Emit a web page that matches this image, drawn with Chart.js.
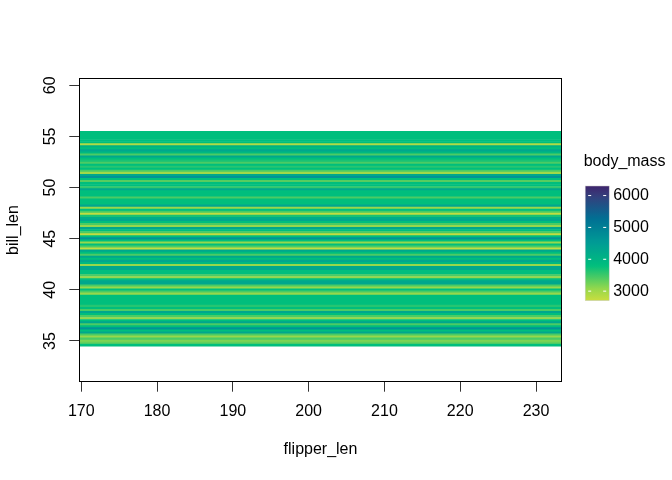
<!DOCTYPE html>
<html>
  <head>
    <title>bill_len vs flipper_len</title>
    <meta charset="UTF-8">
    <style>
      body { margin: 0; background: #fff; }
    </style>
  </head>
  <body>
    <canvas id="heatChart" width="672" height="480"></canvas>
    <script src="https://cdn.jsdelivr.net/npm/chart.js/dist/chart.umd.min.js"></script>
    <script>
      // ---------------- data ----------------
      // bill_len band centres (0.2 wide rows), top to bottom
      const billLen = [
        55.4,55.2,55.0,54.8,54.6,54.4,54.2,54.0,53.8,53.6,
        53.4,53.2,53.0,52.8,52.6,52.4,52.2,52.0,51.8,51.6,
        51.4,51.2,51.0,50.8,50.6,50.4,50.2,50.0,49.8,49.6,
        49.4,49.2,49.0,48.8,48.6,48.4,48.2,48.0,47.8,47.6,
        47.4,47.2,47.0,46.8,46.6,46.4,46.2,46.0,45.8,45.6,
        45.4,45.2,45.0,44.8,44.6,44.4,44.2,44.0,43.8,43.6,
        43.4,43.2,43.0,42.8,42.6,42.4,42.2,42.0,41.8,41.6,
        41.4,41.2,41.0,40.8,40.6,40.4,40.2,40.0,39.8,39.6,
        39.4,39.2,39.0,38.8,38.6,38.4,38.2,38.0,37.8,37.6,
        37.4,37.2,37.0,36.8,36.6,36.4,36.2,36.0,35.8,35.6,
        35.4,35.2,35.0,34.8,34.6
      ];
      // body_mass for each band
      const bodyMass = [
        3900,3900,3900,3900,3900,3900,3150,4100,3900,4300,
        4000,3600,4300,3900,3800,3600,3900,3750,3900,3600,
        3250,4300,4600,3900,3550,3900,3900,3700,4300,3900,
        3900,3900,3600,3900,3900,3900,4300,3300,3900,3600,
        3050,3800,4200,4300,3900,3600,3300,4300,3900,3600,
        3050,3900,4600,3900,3300,3900,3600,3050,4300,3900,
        3600,4300,3900,4300,4000,3300,4300,4300,3900,3900,
        3600,3300,3900,4300,4300,3600,3300,3900,3600,3300,
        3900,3900,3900,3900,3900,3750,3900,3600,4300,3900,
        3600,3300,3900,4300,3600,3900,4600,3900,4300,3600,
        3300,3600,3400,3500,3900
      ];
      const flipperRange = [169.74, 233.39];   // x extent of the image
      const billRange = [31.02, 60.68];        // y axis limits
      const xTicks = [170, 180, 190, 200, 210, 220, 230];
      const yTicks = [35, 40, 45, 50, 55, 60];
      const massRange = [2700, 6300];
      const massTicks = [3000, 4000, 5000, 6000];
      const keyShown = [5950, 3000];           // colours at the top / bottom of the key

      // viridis (hcl) palette, high mass -> low mass
      const palette = ['#4B0055', '#353E7C', '#007094', '#009B95', '#00BE7D', '#96D84B', '#FDE333'];

      function hexToRgb(h) {
        return [parseInt(h.slice(1, 3), 16), parseInt(h.slice(3, 5), 16), parseInt(h.slice(5, 7), 16)];
      }
      function massColor(v) {
        let t = (massRange[1] - v) / (massRange[1] - massRange[0]);
        t = Math.min(1, Math.max(0, t));
        const pos = t * (palette.length - 1);
        const i = Math.min(palette.length - 2, Math.floor(pos));
        const f = pos - i;
        const a = hexToRgb(palette[i]), b = hexToRgb(palette[i + 1]);
        const c = a.map((x, k) => Math.round(x + (b[k] - x) * f));
        return 'rgb(' + c.join(',') + ')';
      }

      const FONT = '"Liberation Sans", Arial, sans-serif';

      // box, rotated y labels, titles and the colour key
      const decor = {
        id: 'decor',
        afterDraw(chart) {
          const { ctx, chartArea: a, scales } = chart;
          ctx.save();
          ctx.strokeStyle = '#000';
          ctx.lineWidth = 1;
          ctx.strokeRect(Math.round(a.left) + 0.5, Math.round(a.top) + 0.5,
                         Math.round(a.right - a.left), Math.round(a.bottom - a.top));

          ctx.fillStyle = '#000';
          ctx.font = '16px ' + FONT;
          ctx.textAlign = 'center';
          ctx.textBaseline = 'middle';
          scales.y.ticks.forEach(t => {
            const py = scales.y.getPixelForValue(t.value);
            ctx.save();
            ctx.translate(50.5, py);
            ctx.rotate(-Math.PI / 2);
            ctx.fillText(String(t.value), 0, 0);
            ctx.restore();
          });

          // axis titles
          ctx.fillText('flipper_len', (a.left + a.right) / 2, 450);
          ctx.save();
          ctx.translate(14, (a.top + a.bottom) / 2);
          ctx.rotate(-Math.PI / 2);
          ctx.fillText('bill_len', 0, 0);
          ctx.restore();

          // colour key
          const kx = a.right + 23.5, kw = 24, ktop = 186, kbot = 300.7;
          ctx.textAlign = 'left';
          ctx.fillText('body_mass', a.right + 22, 161.7);
          const grad = ctx.createLinearGradient(0, ktop, 0, kbot);
          for (let s = 0; s <= 40; s++) {
            const v = keyShown[0] - (keyShown[0] - keyShown[1]) * s / 40;
            grad.addColorStop(s / 40, massColor(v));
          }
          ctx.fillStyle = grad;
          ctx.fillRect(kx, ktop, kw, kbot - ktop);
          ctx.strokeStyle = '#ccc';
          ctx.lineWidth = 0.5;
          ctx.strokeRect(kx, ktop, kw, kbot - ktop);
          massTicks.forEach(m => {
            const py = kbot - (m - massRange[0]) / (massRange[1] - massRange[0]) * (kbot - ktop);
            ctx.strokeStyle = '#fff';
            ctx.lineWidth = 1;
            ctx.beginPath();
            ctx.moveTo(kx + 3, py); ctx.lineTo(kx + 6, py);
            ctx.moveTo(kx + kw - 6, py); ctx.lineTo(kx + kw - 3, py);
            ctx.stroke();
            ctx.fillStyle = '#000';
            ctx.fillText(String(m), kx + kw + 4, py);
          });
          ctx.restore();
        }
      };

      const CHART = document.getElementById('heatChart');
      let heatChart = new Chart(CHART, {
        type: 'bar',
        data: {
          datasets: [{
            label: 'body_mass',
            data: billLen.map(b => ({ y: b, x: flipperRange.slice() })),
            backgroundColor: bodyMass.map(massColor),
            borderWidth: 0,
            borderSkipped: false,
            barPercentage: 1,
            categoryPercentage: 1
          }]
        },
        options: {
          indexAxis: 'y',
          responsive: false,
          animation: false,
          devicePixelRatio: 1,
          layout: { padding: { left: 0, top: 78.3, right: 110.3, bottom: 0 } },
          plugins: { legend: { display: false }, tooltip: { enabled: false } },
          scales: {
            x: {
              type: 'linear',
              min: flipperRange[0],
              max: flipperRange[1],
              offset: false,
              afterBuildTicks: s => { s.ticks = xTicks.map(v => ({ value: v })); },
              afterFit: s => { s.height = 98.3; },
              border: { display: false },
              grid: { offset: false, drawOnChartArea: false, drawTicks: true, tickLength: 10, color: '#333' },
              ticks: { color: '#000', padding: 10, font: { family: FONT, size: 16 } }
            },
            y: {
              type: 'linear',
              min: billRange[0],
              max: billRange[1],
              offset: false,
              afterBuildTicks: s => { s.ticks = yTicks.map(v => ({ value: v })); },
              afterFit: s => { s.width = 79.3; },
              border: { display: false },
              grid: { offset: false, drawOnChartArea: false, drawTicks: true, tickLength: 10, color: '#333' },
              ticks: { callback: () => '', font: { family: FONT, size: 16 } }
            }
          }
        },
        plugins: [decor]
      });
    </script>
  </body>
</html>
